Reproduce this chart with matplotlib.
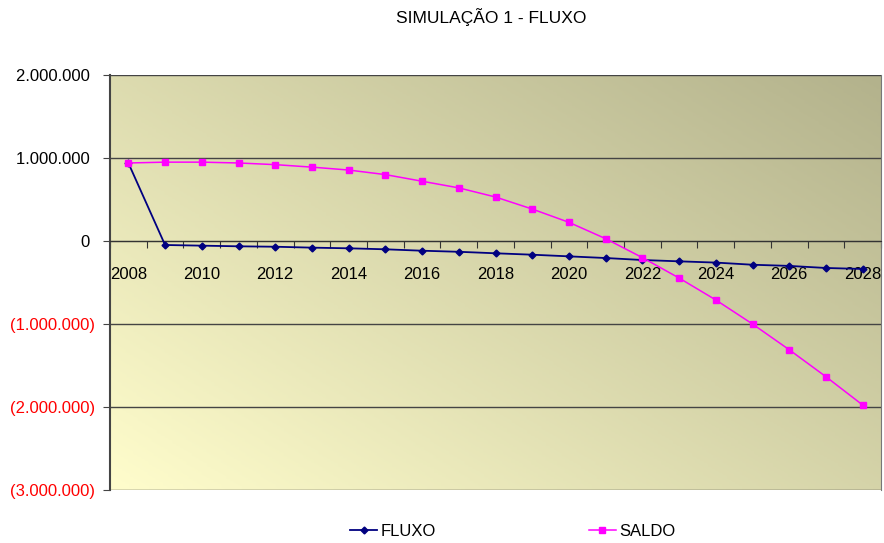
import matplotlib.pyplot as plt
import numpy as np
from matplotlib.colors import LinearSegmentedColormap
from matplotlib.ticker import FuncFormatter, FixedLocator

plt.rcParams['font.family'] = ['Liberation Sans', 'DejaVu Sans']

anos = list(range(2008, 2029))
fluxo = [940000, -48000, -56000, -64000, -69000, -80000, -88000, -100000, -117000,
         -130000, -148000, -165000, -185000, -205000, -229000, -245000, -260000,
         -286000, -300000, -325000, -337000]
saldo = [940000, 950000, 950000, 940000, 920000, 890000, 855000, 800000, 720000,
         640000, 530000, 385000, 225000, 28000, -200000, -446000, -710000,
         -1000000, -1310000, -1635000, -1976000]

fig = plt.figure(figsize=(8.84, 5.43), dpi=100)
ax = fig.add_axes([110/884, 53/543, 771/884, 415/543])

# fundo em degrade (amarelo claro embaixo/esquerda -> caqui em cima/direita)
cmap = LinearSegmentedColormap.from_list('fundo', ['#fffdcc', '#b3b28c'])
gx, gy = np.meshgrid(np.linspace(0, 1, 200), np.linspace(0, 1, 200))
ax.imshow(0.55 * gx + 0.45 * gy, cmap=cmap, origin='lower', extent=[0, 1, 0, 1],
          transform=ax.transAxes, aspect='auto', zorder=0)

x = np.arange(len(anos))
ax.plot(x, fluxo, color='#000080', marker='D', markersize=3.5, linewidth=1.3,
        label='FLUXO', zorder=3)
ax.plot(x, saldo, color='#ff00ff', marker='s', markersize=5, linewidth=1.1,
        label='SALDO', zorder=3)

ax.set_xlim(-0.5, len(anos) - 0.5)
ax.set_ylim(-3000000, 2000000)

# eixo das categorias passa no zero
ax.spines['bottom'].set_position(('data', 0))
ax.spines['bottom'].set_color('#333333')
ax.spines['top'].set_visible(False)
ax.spines['left'].set_color('#444444')
ax.spines['left'].set_linewidth(1.5)
ax.spines['right'].set_color('#777777')
ax.xaxis.set_major_locator(FixedLocator(np.arange(-0.5, len(anos), 1)))
ax.xaxis.set_minor_locator(FixedLocator(x[::2]))
ax.xaxis.set_major_formatter(FuncFormatter(lambda v, p: ''))
ax.xaxis.set_minor_formatter(FuncFormatter(lambda v, p: str(anos[int(round(v))])))
ax.tick_params(axis='x', which='major', direction='out', length=5, color='#333333')
ax.tick_params(axis='x', which='minor', length=0, pad=19, labelsize=12)

# formato contabil: negativos entre parenteses, positivos com espaco no fim
def fmt_valor(v, p):
    s = '{:,.0f}'.format(abs(v)).replace(',', '.')
    return '(' + s + ')' if v < 0 else s + ' '

ax.set_yticks(np.arange(-3000000, 2000001, 1000000))
ax.yaxis.set_major_formatter(FuncFormatter(fmt_valor))
ax.tick_params(axis='y', direction='out', length=5, labelsize=12, pad=6, color='#444444')
for lbl, v in zip(ax.get_yticklabels(), ax.get_yticks()):
    if v < 0:
        lbl.set_color('red')
ax.grid(axis='y', color='#444444', linewidth=1)
ax.set_axisbelow(True)

fig.text(0.556, 0.968, 'SIMULAÇÃO 1 - FLUXO', ha='center', va='center', fontsize=12.5)
fig.legend(loc='center', bbox_to_anchor=(0.58, 0.022), ncol=2, frameon=False,
           fontsize=12, handlelength=1.6, handletextpad=0.2, columnspacing=9.2)

fig.savefig('out.png', dpi=100)
